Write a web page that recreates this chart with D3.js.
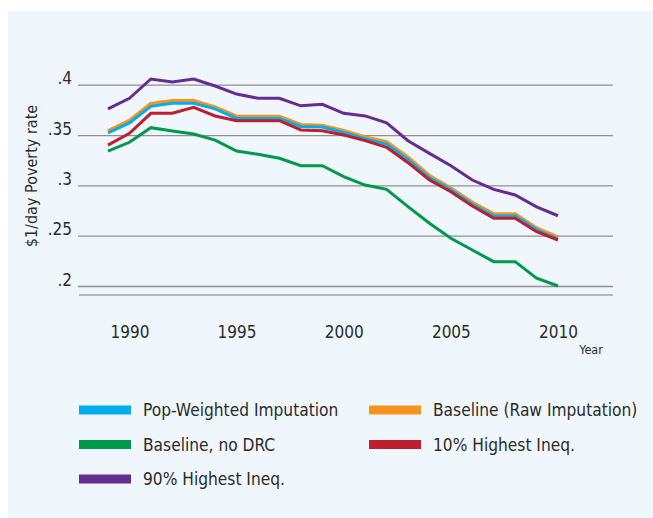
<!DOCTYPE html>
<html>
<head>
<meta charset="utf-8">
<script src="https://cdn.jsdelivr.net/npm/d3@7"></script>
<style>
  body { margin: 0; background: #ffffff; }
  svg text { font-family: "DejaVu Sans Condensed", "DejaVu Sans", sans-serif; fill: #2b2b2b; }
</style>
</head>
<body>
<div id="graphic"></div>
<script>
var years = d3.range(1989, 2011);

var popWeighted = [0.352, 0.362, 0.3785, 0.3815, 0.3815, 0.376, 0.3665, 0.3665, 0.3665, 0.3585, 0.358,
    0.3525, 0.346, 0.341, 0.3255, 0.3075, 0.2955, 0.2812, 0.2695, 0.2695, 0.2558, 0.2465];
var rawImputation = [0.3537, 0.3642, 0.3808, 0.3838, 0.3838, 0.3775, 0.3682, 0.3682, 0.3682, 0.36, 0.3593,
    0.354, 0.3477, 0.343, 0.3275, 0.3093, 0.297, 0.2828, 0.2712, 0.2712, 0.2573, 0.2484];
var noDRC = [0.3341, 0.3428, 0.3573, 0.354, 0.351, 0.345, 0.3341, 0.3308, 0.3269, 0.3195, 0.3195,
    0.3086, 0.3003, 0.296, 0.2788, 0.2623, 0.2474, 0.2358, 0.2242, 0.2242, 0.2077, 0.2];
var highIneq10 = [0.340, 0.3517, 0.3716, 0.3716, 0.3775, 0.3689, 0.3642, 0.3642, 0.3642, 0.355, 0.3543,
    0.35, 0.3444, 0.3378, 0.3225, 0.3053, 0.2937, 0.2795, 0.2673, 0.2673, 0.254, 0.2457];
var highIneq90 = [0.376, 0.3865, 0.4057, 0.4027, 0.4057, 0.3987, 0.3907, 0.3865, 0.3865, 0.379, 0.3805,
    0.3716, 0.369, 0.3622, 0.3443, 0.3318, 0.3195, 0.3053, 0.296, 0.2904, 0.2787, 0.2698];

var yTicks = [0.2, 0.25, 0.3, 0.35, 0.4];
var yTickLabels = [".2", ".25", ".3", ".35", ".4"];
var xTicks = [1990, 1995, 2000, 2005, 2010];

// draw order matters: orange sits under blue, red on top
var series = [
    { name: "90% Highest Ineq.", values: highIneq90, color: "#662d91" },
    { name: "Baseline, no DRC", values: noDRC, color: "#00994c" },
    { name: "Baseline (Raw Imputation)", values: rawImputation, color: "#f7941d" },
    { name: "Pop-Weighted Imputation", values: popWeighted, color: "#00aeef" },
    { name: "10% Highest Ineq.", values: highIneq10, color: "#be1e2d" }
];
var legendOrder = ["Pop-Weighted Imputation", "Baseline (Raw Imputation)", "Baseline, no DRC",
    "10% Highest Ineq.", "90% Highest Ineq."];

var width = 653, height = 518;

var svg = d3.select("#graphic").append("svg")
    .attr("width", width)
    .attr("height", height);

svg.append("rect")
    .attr("x", 8).attr("y", 11)
    .attr("width", width - 8).attr("height", height - 11)
    .attr("fill", "#eff7fd");

var x = d3.scaleLinear().domain([1989, 2010]).range([108, 558]);
var y = d3.scaleLinear().domain([0.2, 0.4]).range([286, 84.7]);

// gridlines
svg.append("g")
    .attr("transform", "translate(79,0)")
    .call(d3.axisLeft(y).tickValues(yTicks).tickSize(-534)
        .tickFormat(function (d, i) { return yTickLabels[i]; }))
    .call(function (g) {
        g.select(".domain").remove();
        g.selectAll(".tick line").attr("stroke", "#8e9193").attr("stroke-width", 1.3)
            .attr("x1", -1);
        g.selectAll(".tick text").attr("x", -7).attr("dy", "-0.05em")
            .style("font-size", "17px").attr("fill", "#2b2b2b");
    });

// x axis baseline
svg.append("line")
    .attr("x1", 79).attr("x2", 613)
    .attr("y1", 295).attr("y2", 295)
    .attr("stroke", "#b4babd").attr("stroke-width", 2);

svg.append("g")
    .attr("transform", "translate(0,295)")
    .call(d3.axisBottom(x).tickValues(xTicks).tickSize(0).tickPadding(31)
        .tickFormat(d3.format("d")))
    .call(function (g) {
        g.select(".domain").remove();
        g.selectAll(".tick text").style("font-size", "17px").attr("fill", "#2b2b2b");
    });

svg.append("text")
    .attr("x", 591).attr("y", 354)
    .attr("text-anchor", "middle")
    .style("font-size", "12.5px")
    .text("Year");

svg.append("text")
    .attr("transform", "translate(37,176) rotate(-90)")
    .attr("text-anchor", "middle")
    .style("font-size", "16px")
    .attr("fill", "#3a3a3a")
    .text("$1/day Poverty rate");

var line = d3.line()
    .x(function (d, i) { return x(years[i]); })
    .y(function (d) { return y(d); });

svg.selectAll(".series")
    .data(series)
    .enter().append("path")
    .attr("class", "series")
    .attr("fill", "none")
    .attr("stroke", function (d) { return d.color; })
    .attr("stroke-width", function (d) { return d.name === "Baseline (Raw Imputation)" ? 4 : 3; })
    .attr("stroke-linejoin", "miter")
    .attr("d", function (d) { return line(d.values); });

// legend, two columns
var legend = svg.append("g");
legendOrder.forEach(function (name, i) {
    var s = series.filter(function (d) { return d.name === name; })[0];
    var col = i % 2, row = Math.floor(i / 2);
    var lx = col === 0 ? 79 : 369, ly = 410 + row * 34.5;
    legend.append("rect")
        .attr("x", lx).attr("y", ly - 4.5)
        .attr("width", 52).attr("height", 9)
        .attr("fill", s.color);
    legend.append("text")
        .attr("x", lx + 64).attr("y", ly + 6)
        .style("font-size", "17.2px")
        .attr("fill", "#2b2b2b")
        .text(name);
});
</script>
</body>
</html>
